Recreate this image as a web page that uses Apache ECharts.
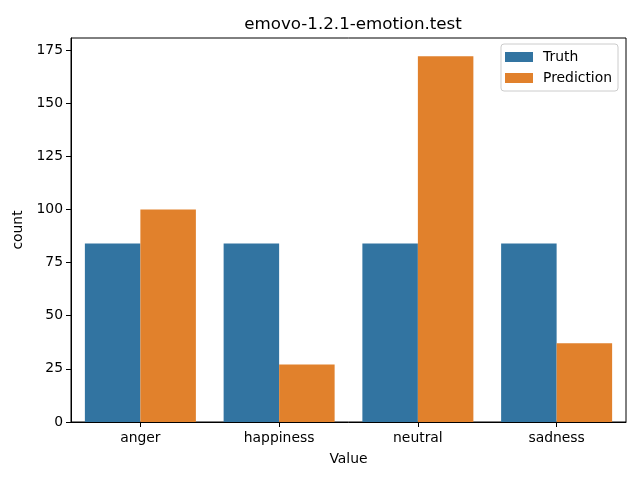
<!DOCTYPE html>
<html><head><meta charset="utf-8">
<script src="https://cdn.jsdelivr.net/npm/echarts@6/dist/echarts.min.js"></script>
<style>html,body{margin:0;padding:0;background:#fff}#c{width:640px;height:480px}</style>
</head><body><div id="c"></div>
<script>
const categories = ["anger", "happiness", "neutral", "sadness"];
const truth = [84, 84, 84, 84];
const prediction = [100, 27, 172, 37];
const yTicks = [0, 25, 50, 75, 100, 125, 150, 175];
const titleText = "emovo-1.2.1-emotion.test";

const font = "DejaVu Sans";
const chart = echarts.init(document.getElementById('c'), null, {renderer: 'canvas'});
chart.setOption({
  animation: false,
  backgroundColor: '#ffffff',
  textStyle: {fontFamily: font},
  title: {text: titleText, left: 348, top: 11, textAlign: 'center',
    textStyle: {fontFamily: font, fontSize: 16.7, fontWeight: 'normal', color: '#000'}},
  legend: {
    right: 22, top: 44, orient: 'vertical', itemWidth: 28, itemHeight: 10, itemGap: 7,
    padding: [6, 6, 6, 4],
    borderColor: '#cccccc', borderWidth: 1, borderRadius: 3,
    backgroundColor: 'rgba(255,255,255,0.8)',
    textStyle: {fontFamily: font, fontSize: 13.9, color: '#000', padding: [0,0,0,5]},
    itemStyle: {borderWidth: 0},
    data: [{name: 'Truth', icon: 'rect'}, {name: 'Prediction', icon: 'rect'}]
  },
  grid: {left: 71, right: 14, top: 38, bottom: 58, show: true, borderColor: '#000', borderWidth: 1, containLabel: false},
  xAxis: {
    type: 'category', data: categories, name: 'Value', nameLocation: 'middle', nameGap: 30,
    nameTextStyle: {fontFamily: font, fontSize: 13.9, color: '#000'},
    axisLine: {show: true, lineStyle: {color: '#000', width: 1}},
    axisTick: {show: true, alignWithLabel: true, length: 5, lineStyle: {color: '#000'}},
    axisLabel: {fontFamily: font, fontSize: 13.9, color: '#000', margin: 9},
    splitLine: {show: false}
  },
  yAxis: {
    type: 'value', min: 0, max: 180.6, name: 'count', nameLocation: 'middle', nameGap: 42,
    nameTextStyle: {fontFamily: font, fontSize: 13.9, color: '#000'},
    axisLine: {show: true, lineStyle: {color: '#000', width: 1}},
    axisTick: {show: true, length: 5, lineStyle: {color: '#000'}, customValues: yTicks},
    axisLabel: {fontFamily: font, fontSize: 13.9, color: '#000', margin: 8, customValues: yTicks},
    splitLine: {show: false}
  },
  series: [
    {name: 'Truth', type: 'bar', data: truth, itemStyle: {color: '#3274a1'}, barGap: '0%', barCategoryGap: '20%'},
    {name: 'Prediction', type: 'bar', data: prediction, itemStyle: {color: '#e1812c'}, barGap: '0%', barCategoryGap: '20%'}
  ]
});
</script></body></html>
